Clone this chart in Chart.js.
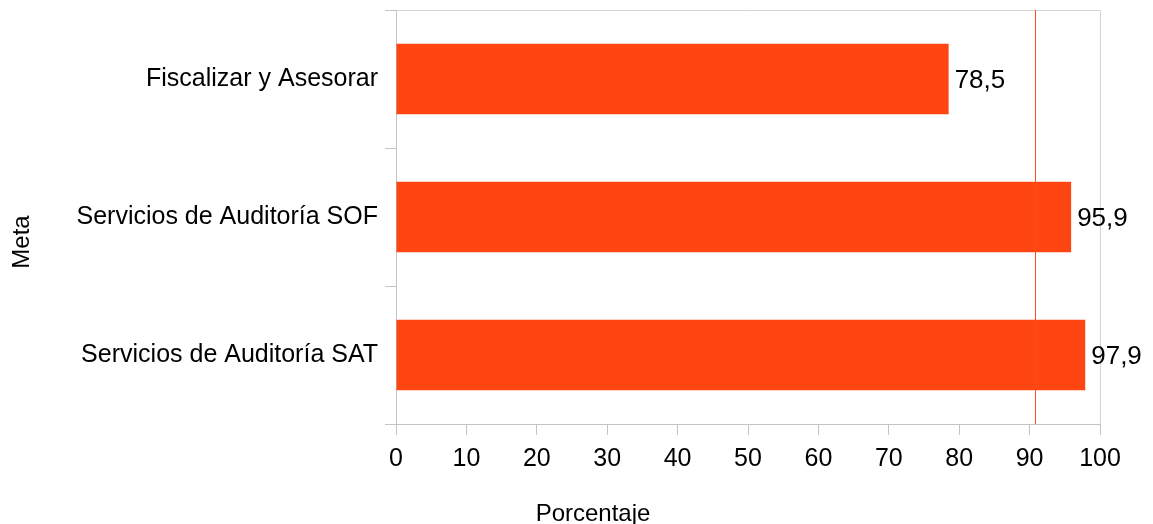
<!DOCTYPE html>
<html>
<head>
<meta charset="utf-8">
<script src="https://cdn.jsdelivr.net/npm/chart.js@4/dist/chart.umd.min.js"></script>
<style>
  html, body { margin: 0; padding: 0; background: #fff; }
  #wrap { width: 1153px; height: 524px; }
</style>
</head>
<body>
<div id="wrap"><canvas id="chart"></canvas></div>
<script>
const metas = ['Fiscalizar y Asesorar', 'Servicios de Auditoría SOF', 'Servicios de Auditoría SAT'];
const porcentajes = [78.5, 95.9, 97.9];
const referencia = 90.8;
const xTicks = [0, 10, 20, 30, 40, 50, 60, 70, 80, 90, 100];

const barColor = '#ff4512';
const axisColor = '#c4c4c4';
const fontFam = '"Liberation Sans", Arial, sans-serif';

// marco del área, línea de referencia, etiquetas de valor y títulos
const extras = {
    id: 'extras',
    beforeDatasetsDraw(chart) {
        const { ctx, chartArea: a } = chart;
        ctx.save();
        ctx.strokeStyle = '#d4d4d4';
        ctx.lineWidth = 1;
        ctx.beginPath();
        ctx.moveTo(a.left, a.top + 0.5);
        ctx.lineTo(a.right + 0.5, a.top + 0.5);
        ctx.lineTo(a.right + 0.5, a.bottom);
        ctx.stroke();
        ctx.restore();
    },
    afterDatasetsDraw(chart) {
        const { ctx, chartArea: a, scales } = chart;
        const x = Math.round(scales.x.getPixelForValue(referencia)) + 0.5;
        ctx.save();
        ctx.strokeStyle = '#ff4d1a';
        ctx.lineWidth = 1;
        ctx.beginPath();
        ctx.moveTo(x, a.top);
        ctx.lineTo(x, a.bottom);
        ctx.stroke();

        ctx.fillStyle = '#000';
        ctx.font = '26px ' + fontFam;
        ctx.textAlign = 'left';
        ctx.textBaseline = 'middle';
        const meta = chart.getDatasetMeta(0);
        meta.data.forEach((bar, i) => {
            const txt = porcentajes[i].toFixed(1).replace('.', ',');
            ctx.fillText(txt, bar.x + 6, bar.y + 2);
        });

        // títulos de ejes
        ctx.font = '24px ' + fontFam;
        ctx.textAlign = 'center';
        ctx.textBaseline = 'alphabetic';
        ctx.fillText('Porcentaje', 593, 521);
        ctx.translate(29, 242);
        ctx.rotate(-Math.PI / 2);
        ctx.fillText('Meta', 0, 0);
        ctx.restore();
    }
};

new Chart(document.getElementById('chart'), {
    type: 'bar',
    data: {
        labels: metas,
        datasets: [{
            data: porcentajes,
            backgroundColor: barColor,
            borderWidth: 0,
            categoryPercentage: 0.51,
            barPercentage: 1
        }]
    },
    options: {
        indexAxis: 'y',
        responsive: true,
        maintainAspectRatio: false,
        animation: false,
        layout: { padding: { top: 10, right: 53, bottom: 0, left: 0 } },
        plugins: {
            legend: { display: false },
            tooltip: { enabled: false }
        },
        scales: {
            x: {
                min: 0,
                max: 100,
                afterBuildTicks(axis) {
                    axis.ticks = xTicks.map(v => ({ value: v }));
                },
                afterFit(axis) {
                    axis.height = 100;
                    axis.paddingLeft = 0;
                    axis.paddingRight = 0;
                },
                grid: {
                    drawOnChartArea: false,
                    drawTicks: true,
                    tickLength: 11,
                    color: axisColor
                },
                border: { color: axisColor, width: 1 },
                ticks: {
                    color: '#000',
                    padding: 9,
                    maxRotation: 0,
                    font: { family: fontFam, size: 25 }
                }
            },
            y: {
                offset: true,
                afterFit(axis) {
                    axis.width = 396;
                    axis.paddingTop = 0;
                    axis.paddingBottom = 0;
                },
                grid: {
                    offset: true,
                    drawOnChartArea: false,
                    drawTicks: true,
                    tickLength: 11,
                    color: axisColor
                },
                border: { color: axisColor, width: 1 },
                ticks: {
                    color: '#000',
                    padding: 7,
                    font: { family: fontFam, size: 25 }
                }
            }
        }
    },
    plugins: [extras]
});
</script>
</body>
</html>
